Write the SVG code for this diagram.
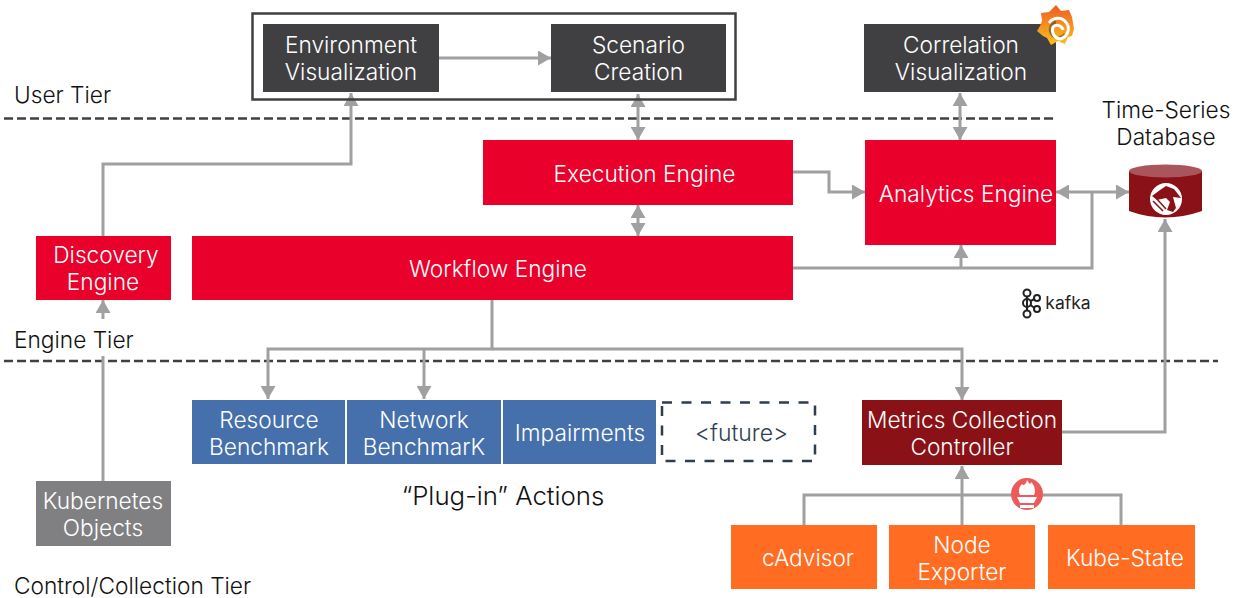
<svg xmlns="http://www.w3.org/2000/svg" width="1239" height="598" viewBox="0 0 1239 598">
<style>
text{font-family:Inter,"Liberation Sans",sans-serif;font-size:22.700px;font-weight:300;text-anchor:middle}
.w{fill:#fff}.k{fill:#111}.l{text-anchor:start}
.dark{fill:#404042}.red{fill:#e9002b}.blue{fill:#4570ab}.grey{fill:#808083}.org{fill:#ff6c22}.mar{fill:#8a1216}
.c{fill:none;stroke:#a0a0a2;stroke-width:3}
.d{fill:none;stroke:#404042;stroke-width:2.500;stroke-dasharray:9 4}
</style>
<defs>
<marker id="a" markerUnits="userSpaceOnUse" markerWidth="14" markerHeight="15" refX="13" refY="7.500" orient="auto-start-reverse"><path d="M0 0L13 7.500L0 15z" fill="#a0a0a2"/></marker>
<linearGradient id="gf" x1="0" y1="1" x2="0" y2="0"><stop offset="0" stop-color="#fcc21b"/><stop offset="1" stop-color="#ee5a24"/></linearGradient>
</defs>
<g id="tiers">
<path class="d" d="M4 118.500H1054"/><path class="d" d="M4 361H1218"/>
<text class="k l" x="14" y="103">User Tier</text>
<text class="k l" x="14" y="348">Engine Tier</text>
<text class="k l" x="14" y="594">Control/Collection Tier</text>
<text class="k" x="1166" y="117.500">Time-Series</text>
<text class="k" x="1166" y="144.500">Database</text>
<text class="k" x="503" y="505" style="font-size:25.800px">“Plug-in” Actions</text>
</g>
<g id="connectors">
<path class="c" d="M439 58H551" marker-end="url(#a)"/>
<path class="c" d="M638 94V140" marker-start="url(#a)" marker-end="url(#a)"/>
<path class="c" d="M638 205V236" marker-start="url(#a)" marker-end="url(#a)"/>
<path class="c" d="M960 93V140" marker-start="url(#a)" marker-end="url(#a)"/>
<path class="c" d="M793 172H829V192H865" marker-end="url(#a)"/>
<path class="c" d="M1056 192H1129" marker-start="url(#a)" marker-end="url(#a)"/>
<path class="c" d="M793 268H1092V192"/>
<path class="c" d="M961 268V245" marker-end="url(#a)"/>
<path class="c" d="M103 236V164H351V93" marker-end="url(#a)"/>
<path class="c" d="M103 319V300" marker-end="url(#a)"/>
<path class="c" d="M103 481V356"/>
<path class="c" d="M492 300V349H268V399" marker-end="url(#a)"/>
<path class="c" d="M424 349V399" marker-end="url(#a)"/>
<path class="c" d="M492 349H962V400" marker-end="url(#a)"/>
<path class="c" d="M1062 432H1165V219" marker-end="url(#a)"/>
<path class="c" d="M962 525V466" marker-end="url(#a)"/>
<path class="c" d="M804 525V495H1121V525"/>
</g>
<g id="environment-frame"><rect x="252.500" y="13.500" width="483" height="86" fill="none" stroke="#404042" stroke-width="2.500"/></g>
<g id="environment-visualization"><rect class="dark" x="263" y="24" width="176" height="68"/><text class="w" x="351" y="53">Environment</text><text class="w" x="351" y="80">Visualization</text></g>
<g id="scenario-creation"><rect class="dark" x="551" y="24" width="175" height="68"/><text class="w" x="638.500" y="53">Scenario</text><text class="w" x="638.500" y="80">Creation</text></g>
<g id="correlation-visualization"><rect class="dark" x="864" y="24" width="192" height="68"/><text class="w" x="961" y="53">Correlation</text><text class="w" x="961" y="80">Visualization</text></g>
<g id="grafana-icon">
<path fill="url(#gf)" d="M1056 5L1061 11L1069 10L1072 17L1073 23L1074 29L1072 36L1068 37L1065 44L1058 41L1051 45L1047 38L1043 36L1037 31L1040 26L1042 21L1041 13L1049 12z"/>
<path d="M1056 22A8 8 0 1 0 1065 34" fill="none" stroke="#404042" stroke-width="3" opacity=".55"/>
<path d="M1049 23A10.500 10.500 0 1 1 1060 39A9 9 0 0 1 1053 27A6 6 0 0 1 1063 30" fill="none" stroke="#fff" stroke-width="3"/>
</g>
<g id="execution-engine"><rect class="red" x="483" y="140" width="310" height="65"/><text class="w" x="644.500" y="181.500">Execution Engine</text></g>
<g id="analytics-engine"><rect class="red" x="865" y="140" width="191" height="105"/><text class="w" x="966" y="201.500">Analytics Engine</text></g>
<g id="workflow-engine"><rect class="red" x="192" y="236" width="601" height="64"/><text class="w" x="498" y="276.500">Workflow Engine</text></g>
<g id="discovery-engine"><rect class="red" x="36" y="236" width="135" height="64"/><text class="w" x="106" y="263">Discovery</text><text class="w" x="103" y="290">Engine</text></g>
<g id="time-series-database">
<path d="M1129 171V211Q1165 224 1202 211V171z" fill="#8a1216"/>
<ellipse cx="1165.500" cy="171" rx="36.500" ry="6.500" fill="#aa555b"/>
<circle cx="1166" cy="199" r="16" fill="#fff"/>
<path d="M1152 196L1160 190L1166 186L1174 189L1181 198L1173 197L1176 208L1173 212L1167 210L1170 202L1166 198L1157 200z" fill="#8a1216"/>
<path d="M1153 201L1163 211M1156 198L1166 209" stroke="#8a1216" stroke-width="1.500"/>
</g>
<g id="kafka-logo">
<g fill="none" stroke="#222" stroke-width="2"><circle cx="1027" cy="293" r="3.500"/><circle cx="1027" cy="303" r="4"/><circle cx="1027" cy="314" r="3.500"/><circle cx="1037" cy="298" r="3"/><circle cx="1037" cy="309" r="3"/><path d="M1027 296.500V310.500M1030.500 301L1034.500 299M1030.500 305L1034.500 308"/></g>
<text x="1068" y="309" style="font-size:17.500px;font-weight:400" fill="#222">kafka</text>
</g>
<g id="resource-benchmark"><rect class="blue" x="192" y="400" width="153" height="64"/><text class="w" x="269" y="427.500">Resource</text><text class="w" x="269" y="454.500">Benchmark</text></g>
<g id="network-benchmark"><rect class="blue" x="347" y="400" width="154" height="64"/><text class="w" x="424" y="427.500">Network</text><text class="w" x="424" y="454.500">BenchmarK</text></g>
<g id="impairments"><rect class="blue" x="503" y="400" width="153" height="64"/><text class="w" x="580" y="440.500">Impairments</text></g>
<g id="future"><rect x="662" y="402.500" width="153" height="58.500" fill="#fff" stroke="#2f3e4e" stroke-width="2.500" stroke-dasharray="10 9.500"/><text x="741.500" y="440.500" style="font-size:23px" fill="#2f3e4e">&lt;future&gt;</text></g>
<g id="metrics-collection-controller"><rect class="mar" x="862" y="400" width="200" height="65"/><text class="w" x="962" y="428">Metrics Collection</text><text class="w" x="962" y="455">Controller</text></g>
<g id="prometheus-icon">
<circle cx="1027" cy="494" r="16" fill="#ee5a5a"/>
<path d="M1027 480C1029 484 1031 485 1031 482C1035 486 1036 491 1034 495H1020C1018 491 1019 487 1022 484C1023 486 1026 485 1027 480z" fill="#fff"/>
<path d="M1017 497H1037L1034 503H1020z" fill="#fff"/>
<rect x="1020" y="505" width="14" height="3" fill="#fff"/>
</g>
<g id="kubernetes-objects"><rect class="grey" x="36" y="481" width="135" height="65"/><text class="w" x="103" y="509">Kubernetes</text><text class="w" x="103" y="536">Objects</text></g>
<g id="cadvisor"><rect class="org" x="731" y="525" width="146" height="64"/><text class="w" x="808" y="566">cAdvisor</text></g>
<g id="node-exporter"><rect class="org" x="889" y="525" width="146" height="64"/><text class="w" x="962" y="552.500">Node</text><text class="w" x="962" y="579.500">Exporter</text></g>
<g id="kube-state"><rect class="org" x="1048" y="525" width="147" height="64"/><text class="w" x="1125" y="566">Kube-State</text></g>
</svg>
